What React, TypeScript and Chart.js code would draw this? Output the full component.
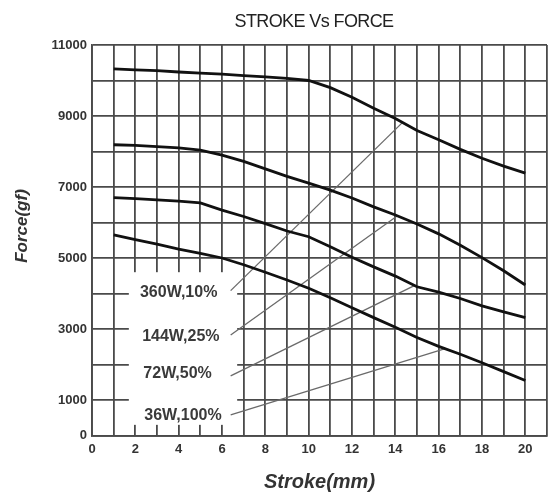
import React, { useEffect, useRef } from 'react';
import { Chart, registerables } from 'chart.js';

Chart.register(...registerables);

// ---- data ----
const strokeMm = [1, 2, 3, 4, 5, 6, 7, 8, 9, 10, 11, 12, 13, 14, 15, 16, 17, 18, 19, 20];
const force360W = [10330, 10300, 10280, 10240, 10210, 10180, 10140, 10100, 10060, 10000, 9800, 9530, 9220, 8930, 8590, 8330, 8060, 7810, 7590, 7390];
const force144W = [8190, 8170, 8140, 8100, 8040, 7900, 7720, 7510, 7300, 7110, 6910, 6690, 6440, 6210, 5960, 5680, 5360, 5010, 4640, 4240];
const force72W = [6700, 6670, 6640, 6600, 6550, 6350, 6170, 5970, 5760, 5600, 5320, 5020, 4750, 4490, 4190, 4040, 3860, 3650, 3480, 3320];
const force36W = [5650, 5520, 5390, 5250, 5130, 5000, 4810, 4600, 4380, 4150, 3880, 3600, 3320, 3050, 2760, 2510, 2290, 2050, 1800, 1550];

const seriesLabels = ['360W,10%', '144W,25%', '72W,50%', '36W,100%'];
const labelStroke = [4.0, 4.1, 3.95, 4.2];
const labelForce = [4030, 2800, 1730, 550];
const leaderFromStroke = [6.4, 6.4, 6.4, 6.4];
const leaderFromForce = [4080, 2830, 1680, 580];
const leaderToStroke = [14.3, 14.1, 14.9, 16.3];
const leaderToForce = [8800, 6190, 4230, 2450];

const yTickLabels = [0, 1000, 3000, 5000, 7000, 9000, 11000];
const xTickLabels = [0, 2, 4, 6, 8, 10, 12, 14, 16, 18, 20];

const chartTitle = 'STROKE Vs FORCE';
const xTitle = 'Stroke(mm)';
const yTitle = 'Force(gf)';

// label-area mask (data units)
const maskStroke = [1.7, 6.7];
const maskForce = [300, 4600];

const FONT = "'Liberation Sans', Arial, Helvetica, sans-serif";
const GRID = '#4a4a4a';

const toPoints = (ys: number[]) => strokeMm.map((x, i) => ({ x, y: ys[i] }));

export default function App() {
  const ref = useRef<HTMLCanvasElement | null>(null);

  useEffect(() => {
    if (!ref.current) return;

    const overlay = {
      id: 'overlay',
      beforeDatasetsDraw(chart: any) {
        const { ctx, scales } = chart;
        const x = scales.x, y = scales.y;
        const l = x.getPixelForValue(maskStroke[0]);
        const r = x.getPixelForValue(maskStroke[1]);
        const t = y.getPixelForValue(maskForce[1]);
        const b = y.getPixelForValue(maskForce[0]);
        ctx.save();
        ctx.fillStyle = '#ffffff';
        ctx.fillRect(l, t, r - l, b - t);
        ctx.restore();
      },
      afterDatasetsDraw(chart: any) {
        const { ctx, scales } = chart;
        ctx.save();
        ctx.fillStyle = '#3a3a3a';
        ctx.font = `bold 16px ${FONT}`;
        ctx.textAlign = 'center';
        ctx.textBaseline = 'middle';
        seriesLabels.forEach((s, i) => {
          ctx.fillText(s, scales.x.getPixelForValue(labelStroke[i]), scales.y.getPixelForValue(labelForce[i]));
        });
        ctx.restore();
      },
      afterDraw(chart: any) {
        const { ctx } = chart;
        ctx.save();
        ctx.fillStyle = '#222';
        ctx.font = `18px ${FONT}`;
        ctx.textAlign = 'center';
        ctx.textBaseline = 'middle';
        (ctx as any).letterSpacing = '-0.6px';
        ctx.fillText(chartTitle, 314, 22);
        (ctx as any).letterSpacing = '0px';
        ctx.translate(22, 226);
        ctx.rotate(-Math.PI / 2);
        ctx.fillStyle = '#333';
        ctx.font = `italic bold 17px ${FONT}`;
        ctx.fillText(yTitle, 0, 0);
        ctx.restore();
      },
    };

    const curveStyle = { borderColor: '#111', borderWidth: 2.8, pointRadius: 0, tension: 0, fill: false };
    const leaderStyle = { borderColor: '#6a6a6a', borderWidth: 1.3, pointRadius: 0, tension: 0, fill: false };

    const chart = new Chart(ref.current, {
      type: 'line',
      data: {
        datasets: [
          { label: seriesLabels[0], data: toPoints(force360W), ...curveStyle },
          { label: seriesLabels[1], data: toPoints(force144W), ...curveStyle },
          { label: seriesLabels[2], data: toPoints(force72W), ...curveStyle },
          { label: seriesLabels[3], data: toPoints(force36W), ...curveStyle },
          ...seriesLabels.map((s, i) => ({
            label: s + ' leader',
            data: [
              { x: leaderFromStroke[i], y: leaderFromForce[i] },
              { x: leaderToStroke[i], y: leaderToForce[i] },
            ],
            ...leaderStyle,
          })),
        ],
      },
      options: {
        responsive: false,
        animation: false,
        layout: { padding: { top: 45, right: 0, bottom: 0, left: 0 } },
        plugins: {
          legend: { display: false },
          tooltip: { enabled: false },
          title: { display: false },
        },
        scales: {
          x: {
            type: 'linear',
            min: 0,
            max: 21,
            afterFit: (s: any) => { s.height = 60.5; },
            grid: { color: GRID, lineWidth: 1.8, drawTicks: false },
            border: { color: GRID, width: 1.8 },
            ticks: {
              stepSize: 1,
              autoSkip: false,
              maxRotation: 0,
              padding: 6,
              color: '#333',
              font: { family: FONT, size: 13, weight: 'bold' },
              callback: (v: any) => (xTickLabels.includes(Number(v)) ? String(v) : ''),
            },
            title: {
              display: true,
              text: xTitle,
              color: '#333',
              font: { family: FONT, size: 20, style: 'italic', weight: 'bold' },
              padding: { top: 0, bottom: 2 },
            },
          },
          y: {
            type: 'linear',
            min: 0,
            max: 11000,
            afterFit: (s: any) => { s.width = 92; },
            grid: { color: GRID, lineWidth: 1.8, drawTicks: false },
            border: { color: GRID, width: 1.8 },
            ticks: {
              stepSize: 1000,
              autoSkip: false,
              padding: 5,
              color: '#333',
              font: { family: FONT, size: 13, weight: 'bold' },
              callback: (v: any) => (yTickLabels.includes(Number(v)) ? String(v) : ''),
            },
          },
        },
      },
      plugins: [overlay],
    } as any);

    return () => chart.destroy();
  }, []);

  return (
    <div style={{ position: 'absolute', left: 0, top: 0, width: 553, height: 496, background: '#fff' }}>
      <canvas ref={ref} width={553} height={496} style={{ display: 'block' }} />
    </div>
  );
}
